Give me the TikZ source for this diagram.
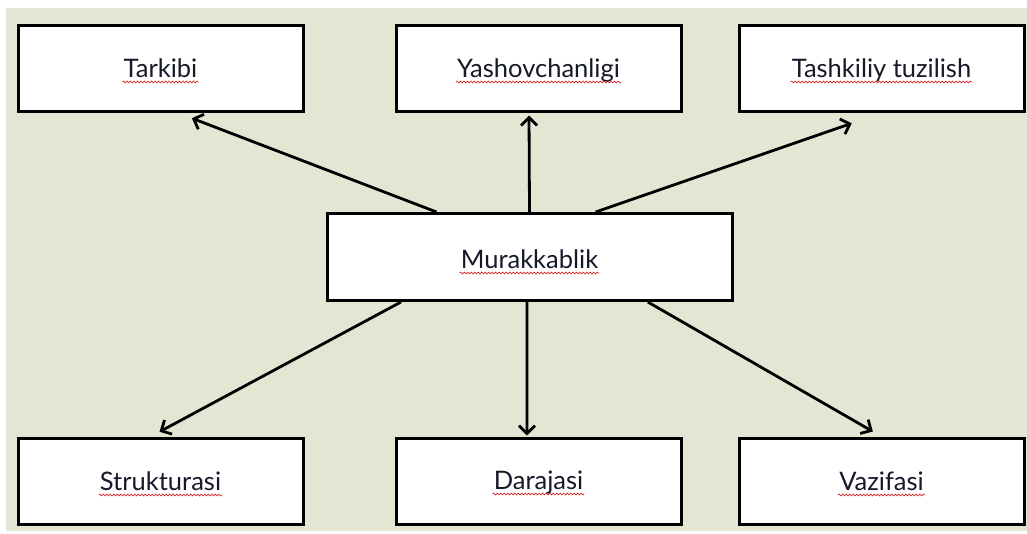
\documentclass[tikz,border=0pt]{standalone}
\usepackage{fontspec}
\setmainfont{Lato}
\usetikzlibrary{arrows.meta,calc,decorations.pathmorphing}
\definecolor{paper}{RGB}{228,230,211}
\definecolor{squig}{RGB}{214,40,40}
\definecolor{ink}{RGB}{22,26,40}
\begin{document}
\begin{tikzpicture}[x=1pt,y=-1pt,
  box/.style={draw=black,line width=3pt,fill=white,minimum width=285pt,minimum height=86pt,inner sep=0pt},
  hub/.style={box,minimum width=405pt,minimum height=87pt},
  lbl/.style={inner sep=0pt,anchor=base,font=\fontsize{25.5}{30}\selectfont,text=ink},
  link/.style={line width=2.8pt,-{Straight Barb[length=8pt,width=16pt]}},
  spell/.style={draw=squig,line width=0.7pt,decorate,decoration={snake,amplitude=0.9pt,segment length=3.5pt}}]
\useasboundingbox (0,0) rectangle (1027,533);
\fill[white] (0,0) rectangle (1027,533);
\fill[paper] (6,8) rectangle (1027,531);

% boxes
\node[box] (t1) at (160.5,68) {};
\node[box] (t2) at (538.5,68) {};
\node[box] (t3) at (881.5,68) {};
\node[hub] (m)  at (529.5,257) {};
\node[box] (b1) at (160.5,481) {};
\node[box] (b2) at (538.5,481) {};
\node[box] (b3) at (881.5,481) {};

% labels, set on a common baseline a little below each box centre
\node[lbl] (lt1) at ($(t1)+(0,9)$) {Tarkibi};
\node[lbl] (lt2) at ($(t2)+(0,9)$) {Yashovchanligi};
\node[lbl] (lt3) at ($(t3)+(0,9)$) {Tashkiliy tuzilish};
\node[lbl] (lm)  at ($(m)+(0,11)$) {Murakkablik};
\node[lbl] (lb1) at ($(b1)+(0,9)$) {Strukturasi};
\node[lbl] (lb2) at ($(b2)+(0,8)$) {Darajasi};
\node[lbl] (lb3) at ($(b3)+(0,9)$) {Vazifasi};

% spell-check underlines
\foreach \l in {lt1,lt2,lt3,lm,lb1,lb2,lb3}
  \draw[spell] ($(\l.base west)+(-1,5)$) -- ($(\l.base east)+(1,5)$);

% connectors from the hub
\draw[link,shorten >=16pt] ($(m.north west)!0.272!(m.north east)$) -- ($(t1.south west)!0.557!(t1.south east)$);
\draw[link,shorten >=3pt]  ($(m.north west)!0.5!(m.north east)$)   -- ($(t2.south west)!0.467!(t2.south east)$);
\draw[link,shorten >=33pt] ($(m.north west)!0.662!(m.north east)$) -- ($(t3.south west)!0.505!(t3.south east)$);
\draw[link,shorten >=10pt] ($(m.south west)!0.185!(m.south east)$) -- ($(b1.north west)!0.466!(b1.north east)$);
\draw[link,shorten >=1pt]  ($(m.south west)!0.494!(m.south east)$) -- ($(b2.north west)!0.46!(b2.north east)$);
\draw[link,shorten >=10pt] ($(m.south west)!0.79!(m.south east)$)  -- ($(b3.north west)!0.5!(b3.north east)$);
\end{tikzpicture}
\end{document}
